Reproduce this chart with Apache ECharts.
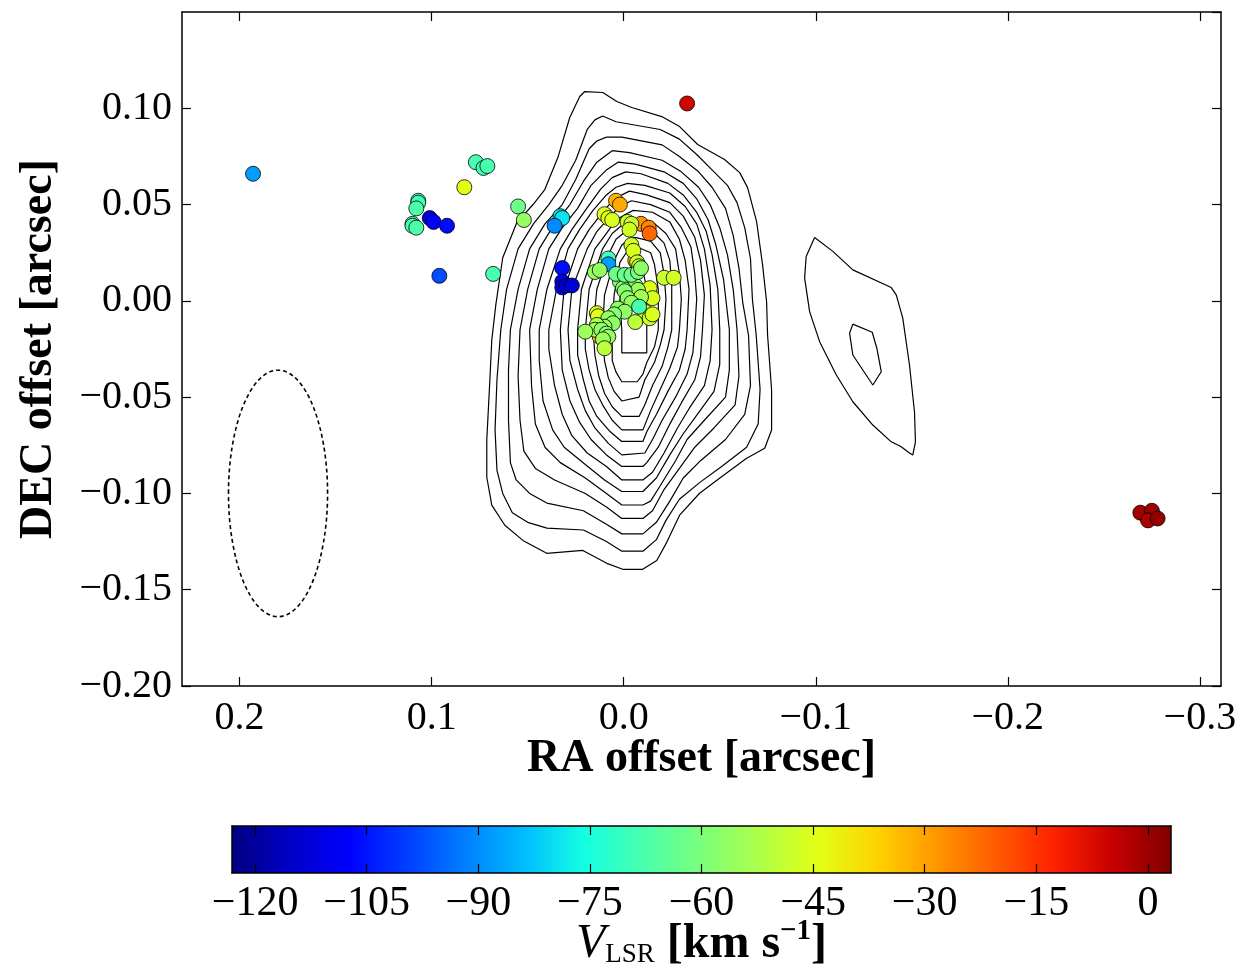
<!DOCTYPE html>
<html><head><meta charset="utf-8">
<script src="https://cdn.jsdelivr.net/npm/echarts@6/dist/echarts.min.js"></script>
<style>html,body{margin:0;padding:0;background:#fff}#c{width:1250px;height:969px}</style>
</head><body><div id="c"></div>
<script>
// ---------- data ----------
const xTicks = [0.2, 0.1, 0.0, -0.1, -0.2, -0.3];
const cbTicks = [-120, -105, -90, -75, -60, -45, -30, -15, 0];
const xRange = [-0.311, 0.230];
const yRange = [-0.20, 0.15];
const vRange = [-123.1, 3.1];
// beam: centre RA, centre DEC, semi-axis RA, semi-axis DEC (arcsec)
const beam = [0.180, -0.100, 0.0258, 0.064];

// maser spots: [RA offset, DEC offset, V_LSR]
const masers = [
 [0.193,0.066,-88],
 [0.077,0.072,-68],[0.073,0.069,-69],[0.071,0.070,-68],
 [0.083,0.059,-44],
 [0.107,0.052,-68],[0.107,0.051,-69],[0.108,0.048,-67],
 [0.110,0.040,-68],[0.110,0.039,-69],[0.108,0.038,-67],
 [0.101,0.043,-111],[0.099,0.041,-108],[0.092,0.039,-106],
 [0.096,0.013,-98],
 [0.055,0.049,-62],[0.052,0.042,-56],[0.068,0.014,-68],
 [0.033,0.044,-80],[0.032,0.043,-79],[0.036,0.039,-90],
 [0.032,0.017,-106],
 [0.032,0.010,-111],[0.032,0.007,-112],[0.030,0.008,-114],[0.027,0.008,-113],
 [-0.033,0.1025,-6],
 [-0.269,-0.110,-1],[-0.275,-0.109,0],[-0.273,-0.114,-2],[-0.278,-0.113,1],
 [0.004,0.052,-32],[0.002,0.050,-31],
 [0.010,0.045,-45],[0.008,0.043,-44],[0.006,0.042,-46],
 [-0.009,0.040,-28],[-0.013,0.038,-26],[-0.0135,0.035,-22],
 [-0.002,0.041,-47],[-0.004,0.040,-48],[-0.003,0.037,-47],
 [-0.004,0.029,-47],[-0.006,0.021,-33],[-0.005,0.026,-46],
 [-0.007,0.020,-48],[-0.008,0.018,-47],
 [0.008,0.022,-68],[0.008,0.019,-88],
 [0.015,0.015,-55],[0.0125,0.016,-56],
 [-0.021,0.012,-48],[-0.026,0.012,-47],
 [-0.0135,0.0066,-45],[-0.015,0.0014,-46],
 [0.002,0.010,-59],[-0.002,0.009,-58],[-0.006,0.008,-57],
 [0.0004,0.0066,-58],[-0.0074,0.0057,-55],[-0.009,0.002,-54],
 [0.004,0.014,-62],[-0.0005,0.0135,-63],[-0.004,0.0135,-62],[-0.0074,0.015,-60],[-0.009,0.017,-57],
 [-0.0005,0.005,-58],[-0.002,0.0014,-57],[-0.004,-0.001,-56],
 [-0.011,-0.0056,-47],[-0.0135,-0.009,-47],[-0.015,-0.007,-46],
 [-0.008,-0.003,-68],
 [-0.006,-0.011,-50],
 [0.014,-0.0064,-44],[0.0134,-0.008,-45],
 [0.003,-0.004,-57],[-0.0005,-0.0056,-57],[0.005,-0.007,-58],
 [0.008,-0.009,-56],[0.0056,-0.0116,-57],[0.010,-0.0134,-56],
 [0.0125,-0.0186,-32],
 [0.014,-0.0125,-52],[0.015,-0.015,-54],
 [0.020,-0.016,-55],
 [0.0116,-0.015,-57],[0.009,-0.017,-58],[0.008,-0.0186,-56],[0.0108,-0.020,-55],
 [0.010,-0.0246,-50]
];

// continuum contours: [RA offset, DEC offset]
const contour01 = [[0.0203,0.1087],[0.0109,0.1082],[0.0036,0.1035],[-0.0042,0.1004],[-0.0198,0.0957],[-0.0291,0.0905],[-0.0385,0.0812],[-0.0525,0.0734],[-0.0604,0.0666],[-0.0645,0.0588],[-0.0692,0.0411],[-0.0723,0.0187],[-0.0744,-0.0005],[-0.0749,-0.0177],[-0.0770,-0.0463],[-0.0770,-0.0671],[-0.0734,-0.0765],[-0.0640,-0.0817],[-0.0499,-0.0921],[-0.0395,-0.0999],[-0.0291,-0.1113],[-0.0224,-0.1254],[-0.0172,-0.1348],[-0.0099,-0.1394],[0.0005,-0.1394],[0.0088,-0.1363],[0.0213,-0.1296],[0.0401,-0.1311],[0.0525,-0.1244],[0.0619,-0.1165],[0.0687,-0.1061],[0.0713,-0.0916],[0.0713,-0.0723],[0.0697,-0.0411],[0.0687,-0.0203],[0.0666,-0.0021],[0.0630,0.0224],[0.0557,0.0406],[0.0473,0.0499],[0.0411,0.0578],[0.0343,0.0744],[0.0281,0.0952],[0.0229,0.1061]];
const contour02 = [[0.011,0.096],[0.004,0.093],[-0.019,0.089],[-0.029,0.084],[-0.038,0.076],[-0.046,0.068],[-0.054,0.060],[-0.059,0.051],[-0.063,0.038],[-0.066,0.022],[-0.067,0.001],[-0.069,-0.018],[-0.071,-0.046],[-0.070,-0.064],[-0.064,-0.076],[-0.051,-0.086],[-0.040,-0.094],[-0.029,-0.103],[-0.022,-0.114],[-0.017,-0.124],[-0.010,-0.130],[0.001,-0.130],[0.009,-0.125],[0.021,-0.119],[0.040,-0.118],[0.050,-0.115],[0.058,-0.110],[0.063,-0.100],[0.066,-0.088],[0.067,-0.067],[0.066,-0.041],[0.064,-0.015],[0.061,0.006],[0.055,0.027],[0.047,0.040],[0.039,0.050],[0.032,0.060],[0.025,0.073],[0.019,0.089],[0.015,0.094]];
const contour03 = [[0.009,0.085],[0.001,0.085],[-0.020,0.081],[-0.029,0.075],[-0.039,0.067],[-0.046,0.059],[-0.053,0.048],[-0.057,0.034],[-0.060,0.017],[-0.062,-0.001],[-0.065,-0.018],[-0.066,-0.044],[-0.063,-0.059],[-0.053,-0.072],[-0.040,-0.083],[-0.031,-0.092],[-0.024,-0.104],[-0.017,-0.115],[-0.010,-0.121],[0.001,-0.121],[0.009,-0.116],[0.021,-0.109],[0.040,-0.105],[0.049,-0.100],[0.056,-0.093],[0.059,-0.084],[0.060,-0.062],[0.060,-0.036],[0.059,-0.015],[0.055,0.006],[0.049,0.027],[0.041,0.040],[0.032,0.050],[0.025,0.063],[0.018,0.079],[0.014,0.083]];
const contour04 = [[0.006,0.078],[-0.003,0.077],[-0.020,0.073],[-0.030,0.067],[-0.039,0.059],[-0.045,0.050],[-0.050,0.038],[-0.054,0.024],[-0.057,0.006],[-0.059,-0.015],[-0.060,-0.039],[-0.058,-0.054],[-0.047,-0.066],[-0.037,-0.076],[-0.029,-0.087],[-0.021,-0.098],[-0.015,-0.109],[-0.010,-0.113],[0.001,-0.113],[0.009,-0.107],[0.020,-0.100],[0.036,-0.093],[0.046,-0.087],[0.052,-0.078],[0.054,-0.062],[0.055,-0.039],[0.054,-0.015],[0.050,0.006],[0.044,0.027],[0.036,0.040],[0.028,0.050],[0.021,0.062],[0.014,0.072]];
const contour05 = [[0.003,0.072],[-0.006,0.071],[-0.021,0.067],[-0.031,0.061],[-0.038,0.053],[-0.044,0.042],[-0.048,0.029],[-0.052,0.011],[-0.055,-0.015],[-0.055,-0.036],[-0.053,-0.050],[-0.042,-0.062],[-0.033,-0.072],[-0.027,-0.083],[-0.019,-0.096],[-0.014,-0.104],[-0.010,-0.106],[0.001,-0.106],[0.009,-0.100],[0.020,-0.092],[0.033,-0.084],[0.041,-0.076],[0.046,-0.064],[0.048,-0.044],[0.049,-0.015],[0.045,0.006],[0.039,0.027],[0.032,0.038],[0.024,0.048],[0.017,0.060],[0.009,0.068]];
const contour06 = [[-0.001,0.067],[-0.009,0.066],[-0.023,0.061],[-0.031,0.055],[-0.038,0.046],[-0.043,0.036],[-0.046,0.024],[-0.049,0.006],[-0.050,-0.015],[-0.050,-0.033],[-0.047,-0.047],[-0.039,-0.058],[-0.031,-0.069],[-0.024,-0.080],[-0.017,-0.092],[-0.010,-0.099],[0.001,-0.099],[0.010,-0.093],[0.020,-0.085],[0.031,-0.076],[0.037,-0.067],[0.042,-0.052],[0.044,-0.031],[0.044,-0.015],[0.040,0.006],[0.033,0.027],[0.027,0.037],[0.020,0.047],[0.012,0.058],[0.006,0.064]];
const contour07 = [[-0.002,0.061],[-0.011,0.060],[-0.024,0.056],[-0.032,0.049],[-0.038,0.040],[-0.042,0.027],[-0.045,0.008],[-0.046,-0.015],[-0.045,-0.031],[-0.042,-0.044],[-0.034,-0.056],[-0.028,-0.066],[-0.021,-0.079],[-0.015,-0.089],[-0.010,-0.093],[0.001,-0.093],[0.009,-0.086],[0.019,-0.079],[0.027,-0.070],[0.032,-0.059],[0.036,-0.044],[0.039,-0.025],[0.039,-0.015],[0.035,0.006],[0.029,0.027],[0.023,0.037],[0.016,0.047],[0.009,0.055],[0.004,0.059]];
const contour08 = [[-0.003,0.057],[-0.012,0.055],[-0.024,0.051],[-0.031,0.044],[-0.037,0.033],[-0.040,0.021],[-0.042,0.003],[-0.041,-0.015],[-0.040,-0.029],[-0.037,-0.041],[-0.030,-0.053],[-0.024,-0.064],[-0.018,-0.076],[-0.012,-0.084],[-0.010,-0.086],[0.001,-0.086],[0.009,-0.080],[0.017,-0.072],[0.023,-0.063],[0.028,-0.052],[0.032,-0.036],[0.033,-0.015],[0.031,0.006],[0.024,0.027],[0.018,0.037],[0.011,0.046],[0.005,0.053]];
const contour09 = [[-0.004,0.052],[-0.014,0.050],[-0.024,0.046],[-0.030,0.038],[-0.035,0.028],[-0.037,0.014],[-0.038,0.001],[-0.037,-0.015],[-0.036,-0.027],[-0.033,-0.038],[-0.027,-0.050],[-0.020,-0.062],[-0.015,-0.072],[-0.011,-0.079],[0.001,-0.080],[0.008,-0.074],[0.015,-0.066],[0.020,-0.057],[0.024,-0.046],[0.028,-0.031],[0.029,-0.015],[0.027,0.006],[0.019,0.027],[0.014,0.036],[0.007,0.044],[0.002,0.049]];
const contour10 = [[-0.005,0.047],[-0.015,0.046],[-0.024,0.041],[-0.029,0.032],[-0.032,0.021],[-0.034,0.006],[-0.033,-0.015],[-0.032,-0.025],[-0.029,-0.036],[-0.023,-0.047],[-0.017,-0.059],[-0.012,-0.068],[-0.010,-0.073],[0.001,-0.073],[0.007,-0.068],[0.014,-0.060],[0.018,-0.052],[0.021,-0.041],[0.024,-0.028],[0.024,-0.015],[0.022,0.006],[0.015,0.027],[0.009,0.035],[0.004,0.042],[-0.001,0.045]];
const contour11 = [[-0.005,0.043],[-0.015,0.041],[-0.022,0.035],[-0.027,0.027],[-0.029,0.014],[-0.030,0.001],[-0.029,-0.015],[-0.028,-0.024],[-0.024,-0.035],[-0.019,-0.046],[-0.014,-0.057],[-0.010,-0.067],[0.001,-0.067],[0.006,-0.062],[0.011,-0.054],[0.015,-0.046],[0.018,-0.036],[0.020,-0.025],[0.020,-0.015],[0.018,0.006],[0.011,0.027],[0.006,0.035],[0.000,0.040]];
const contour12 = [[-0.006,0.038],[-0.015,0.036],[-0.021,0.030],[-0.024,0.021],[-0.025,0.008],[-0.025,-0.015],[-0.023,-0.024],[-0.020,-0.034],[-0.015,-0.044],[-0.011,-0.054],[-0.008,-0.060],[0.001,-0.060],[0.006,-0.055],[0.010,-0.048],[0.013,-0.039],[0.015,-0.028],[0.016,-0.015],[0.014,0.006],[0.008,0.024],[0.004,0.032],[-0.001,0.036]];
const contour13 = [[-0.006,0.033],[-0.014,0.031],[-0.019,0.025],[-0.021,0.014],[-0.022,0.001],[-0.021,-0.015],[-0.019,-0.023],[-0.016,-0.032],[-0.011,-0.041],[-0.008,-0.050],[0.001,-0.052],[0.005,-0.047],[0.008,-0.040],[0.010,-0.031],[0.011,-0.015],[0.010,0.003],[0.005,0.021],[0.001,0.029],[-0.003,0.032]];
const contour14 = [[-0.007,0.028],[-0.014,0.025],[-0.016,0.019],[-0.018,0.006],[-0.018,-0.015],[-0.016,-0.024],[-0.012,-0.032],[-0.010,-0.038],[-0.007,-0.042],[0.001,-0.042],[0.004,-0.037],[0.006,-0.031],[0.006,-0.015],[0.005,0.003],[0.002,0.020],[-0.002,0.026]];
const contour15 = [[-0.005,0.019],[-0.010,0.016],[-0.012,0.006],[-0.012,-0.010],[-0.012,-0.020],[-0.012,-0.027],[0.001,-0.027],[0.001,-0.015],[0.002,0.001],[0.000,0.012]];
const contour16 = [[-0.0994,0.0329],[-0.1089,0.0257],[-0.1193,0.0161],[-0.1393,0.0069],[-0.1419,0.0031],[-0.1453,-0.0090],[-0.1488,-0.0333],[-0.1514,-0.0576],[-0.1519,-0.0732],[-0.1505,-0.0801],[-0.1479,-0.0784],[-0.1445,-0.0758],[-0.1393,-0.0732],[-0.1297,-0.0645],[-0.1193,-0.0524],[-0.1107,-0.0385],[-0.1020,-0.0212],[-0.0968,-0.0056],[-0.0942,0.0118],[-0.0950,0.0230]];
const contour17 = [[-0.1193,-0.0121],[-0.1294,-0.0163],[-0.1318,-0.0246],[-0.1341,-0.0368],[-0.1297,-0.0437],[-0.1193,-0.0281],[-0.1176,-0.0168]];

// jet colour map samples (evenly spaced)
const jet = ['#000080','#0000c8','#0000ff','#0040ff','#0080ff','#00bfff','#14ffe2','#48ffaf','#7bff7b','#afff48','#e2ff14','#ffd200','#ff9700','#ff5c00','#ff2100','#c80000','#800000'];

// ---------- chart ----------
const serif = 'Liberation Serif';
const minus = s => s.replace('-', '\u2212');
const fmt = (v, d) => minus(Math.abs(v) < 1e-9 ? (0).toFixed(d) : Number(v).toFixed(d));
const frame = {show:true, onZero:false, lineStyle:{color:'#000', width:1.5}};
const tickIn = {show:true, inside:true, length:9, lineStyle:{color:'#000', width:1.2}};
const labelFont = {fontFamily:serif, fontSize:40, color:'#000'};
const titleFont = {fontFamily:serif, fontSize:46, fontWeight:'bold', color:'#000'};

const contours = [contour01,contour02,contour03,contour04,contour05,contour06,contour07,contour08,contour09,contour10,contour11,contour12,contour13,contour14,contour15,contour16,contour17];
const series = contours.map((c, i) => ({
  type:'line', name:'contour' + (i + 1), xAxisIndex:0, yAxisIndex:0,
  data: c.concat([c[0]]), symbol:'none', showSymbol:false, smooth:false,
  lineStyle:{color:'#000', width:1.2}, silent:true, z:2, animation:false
}));
series.push({
  type:'custom', name:'beam', xAxisIndex:0, yAxisIndex:0, data:[beam],
  encode:{x:0, y:1}, silent:true, z:3,
  renderItem:(p, api) => {
    const c = api.coord([api.value(0), api.value(1)]);
    const s = api.size([api.value(2), api.value(3)]);
    return {type:'ellipse', shape:{cx:c[0], cy:c[1], rx:Math.abs(s[0]), ry:Math.abs(s[1])},
      style:{fill:'none', stroke:'#000', lineWidth:1.6, lineDash:[4,3]}};
  }
});
const scatterIndex = series.length;
series.push({
  type:'scatter', name:'masers', xAxisIndex:0, yAxisIndex:0, data:masers,
  symbol:'circle', symbolSize:15, z:5,
  itemStyle:{borderColor:'#000', borderWidth:0.8, opacity:1}
});
series.push({
  type:'custom', name:'colorbar', xAxisIndex:2, yAxisIndex:2,
  data:[[vRange[0], vRange[1], 0, 1]], encode:{x:[0,1], y:[2,3]}, silent:true, z:1,
  renderItem:(p, api) => {
    const a = api.coord([api.value(0), 1]);
    const b = api.coord([api.value(1), 0]);
    return {type:'rect', shape:{x:a[0], y:a[1], width:b[0]-a[0], height:b[1]-a[1]},
      style:{fill:new echarts.graphic.LinearGradient(0,0,1,0, jet.map((c,i)=>({offset:i/(jet.length-1), color:c})))}};
  }
});

const option = {
  backgroundColor:'#fff',
  animation:false,
  grid:[
    {left:182, top:12, width:1039, height:674, containLabel:false, outerBoundsMode:'none'},
    {left:232, top:826, width:939, height:47, containLabel:false, outerBoundsMode:'none'}
  ],
  xAxis:[
    {gridIndex:0, type:'value', position:'bottom', min:xRange[0], max:xRange[1], inverse:true, z:10,
     axisLine:frame, axisTick:Object.assign({customValues:xTicks}, tickIn),
     axisLabel:{customValues:xTicks, margin:12, formatter:v => fmt(v,1), ...labelFont},
     splitLine:{show:false},
     name:'RA offset [arcsec]', nameLocation:'middle', nameGap:50, nameMoveOverlap:false, nameTextStyle:titleFont},
    {gridIndex:0, type:'value', position:'top', min:xRange[0], max:xRange[1], inverse:true, z:10,
     axisLine:frame, axisTick:Object.assign({customValues:xTicks}, tickIn),
     axisLabel:{show:false}, splitLine:{show:false}},
    {gridIndex:1, type:'value', position:'bottom', min:vRange[0], max:vRange[1], z:10,
     axisLine:frame, axisTick:Object.assign({customValues:cbTicks}, tickIn),
     axisLabel:{customValues:cbTicks, margin:10, formatter:v => fmt(v,0), ...labelFont, fontSize:42},
     splitLine:{show:false},
     name:'{v|V}{s|LSR}{b| [km s}{p|\u22121}{b|]}', nameLocation:'middle', nameGap:44, nameMoveOverlap:false,
     nameTextStyle:{rich:{
       v:{fontFamily:serif, fontSize:48, fontStyle:'italic', color:'#000'},
       s:{fontFamily:serif, fontSize:27, color:'#000', padding:[20,0,0,0]},
       b:{fontFamily:serif, fontSize:48, fontWeight:'bold', color:'#000'},
       p:{fontFamily:serif, fontSize:29, fontWeight:'bold', color:'#000', padding:[0,0,26,0]}
     }}},
    {gridIndex:1, type:'value', position:'top', min:vRange[0], max:vRange[1], z:10,
     axisLine:frame, axisTick:Object.assign({customValues:cbTicks}, tickIn),
     axisLabel:{show:false}, splitLine:{show:false}}
  ],
  yAxis:[
    {gridIndex:0, type:'value', position:'left', min:yRange[0], max:yRange[1], interval:0.05, z:10,
     axisLine:frame, axisTick:tickIn,
     axisLabel:{margin:10, showMaxLabel:false, formatter:v => (Math.abs(v - 0.15) < 1e-6 ? '' : fmt(v,2)), ...labelFont},
     splitLine:{show:false},
     name:'DEC offset [arcsec]', nameLocation:'middle', nameGap:120, nameMoveOverlap:false, nameTextStyle:titleFont},
    {gridIndex:0, type:'value', position:'right', min:yRange[0], max:yRange[1], interval:0.05, z:10,
     axisLine:frame, axisTick:tickIn, axisLabel:{show:false}, splitLine:{show:false}},
    {gridIndex:1, type:'value', position:'left', min:0, max:1, z:10,
     axisLine:frame, axisTick:{show:false}, axisLabel:{show:false}, splitLine:{show:false}},
    {gridIndex:1, type:'value', position:'right', min:0, max:1, z:10,
     axisLine:frame, axisTick:{show:false}, axisLabel:{show:false}, splitLine:{show:false}}
  ],
  visualMap:{type:'continuous', show:false, min:vRange[0], max:vRange[1], dimension:2,
    seriesIndex:scatterIndex, inRange:{color:jet}},
  series:series
};
const chart = echarts.init(document.getElementById('c'));
chart.setOption(option);
</script></body></html>
